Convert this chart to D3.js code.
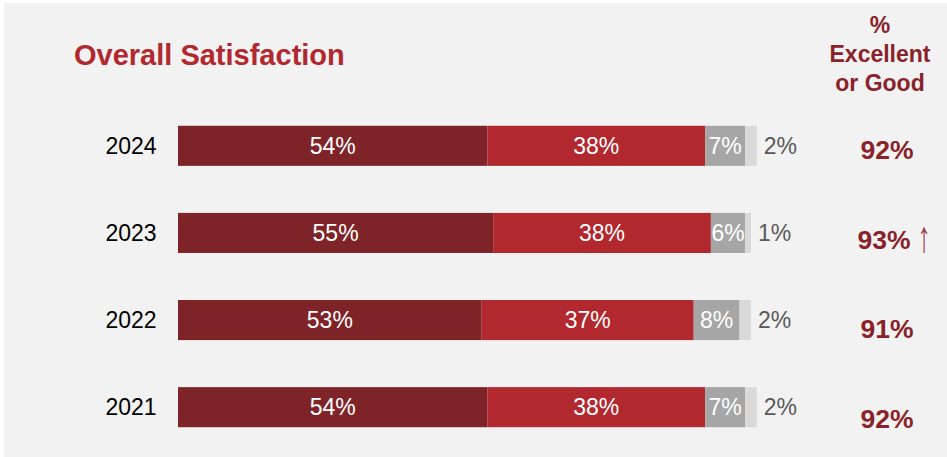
<!DOCTYPE html>
<html>
<head>
<meta charset="utf-8">
<script src="https://cdn.jsdelivr.net/npm/d3@7"></script>
<style>
  html, body { margin: 0; padding: 0; background: #ffffff; }
  svg { display: block; font-family: Arial, "Liberation Sans", sans-serif; }
</style>
</head>
<body>
<svg id="chart" width="947" height="457"></svg>
<script>
// ---- data ----
const years = ["2024", "2023", "2022", "2021"];
const excellent = [54, 55, 53, 54];
const good = [38, 38, 37, 38];
const fair = [7, 6, 8, 7];
const poor = [2, 1, 2, 2];
const topTwo = ["92%", "93%", "91%", "92%"];
const topTwoMark = ["", "\u2191", "", ""];
const seriesNames = ["Excellent", "Good", "Fair", "Poor"];
const seriesColors = ["#7e2428", "#b1282e", "#a6a6a6", "#d9d9d9"];

// ---- layout ----
const W = 947, H = 457;
const svg = d3.select("#chart");

svg.append("rect").attr("x", 4).attr("y", 3).attr("width", W - 4).attr("height", H - 3).attr("fill", "#f2f2f2");

const x = d3.scaleLinear().domain([0, 100]).range([178, 751]);
const y = d3.scaleBand().domain(years).range([104, 449]).paddingInner(0.54).paddingOuter(0.25);

const rows = years.map((yr, i) => {
  const vals = [excellent[i], good[i], fair[i], poor[i]];
  let acc = 0;
  return vals.map((v, k) => { const s = { year: yr, k, v, x0: acc, x1: acc + v }; acc += v; return s; });
});

const g = svg.append("g");

rows.forEach((segs, i) => {
  const yr = years[i];
  const cy = y(yr) + y.bandwidth() / 2;
  const row = g.append("g");
  row.selectAll("rect").data(segs).join("rect")
    .attr("x", d => x(d.x0))
    .attr("y", y(yr))
    .attr("width", d => x(d.x1) - x(d.x0))
    .attr("height", y.bandwidth())
    .attr("fill", d => seriesColors[d.k]);

  // inside labels (first three)
  row.selectAll("text.in").data(segs.slice(0, 3)).join("text")
    .attr("class", "in")
    .attr("x", d => (x(d.x0) + x(d.x1)) / 2)
    .attr("y", cy)
    .attr("dy", "0.36em")
    .attr("text-anchor", "middle")
    .attr("fill", "#ffffff")
    .attr("font-size", 23)
    .text(d => d.v + "%");

  // outside label (last)
  const last = segs[3];
  row.append("text")
    .attr("x", x(last.x1) + 7)
    .attr("y", cy)
    .attr("dy", "0.36em")
    .attr("fill", "#595959")
    .attr("font-size", 23)
    .text(last.v + "%");

  // year label
  row.append("text")
    .attr("x", 131)
    .attr("y", cy)
    .attr("dy", "0.36em")
    .attr("text-anchor", "middle")
    .attr("fill", "#000000")
    .attr("font-size", 23)
    .text(yr);

  // top-two box
  row.append("text")
    .attr("x", topTwoMark[i] ? 884 : 887)
    .attr("y", cy + 4 + i * 2.3)
    .attr("dy", "0.36em")
    .attr("text-anchor", "middle")
    .attr("fill", "#8a2329")
    .attr("font-size", 26.5)
    .attr("font-weight", "bold")
    .text(topTwo[i]);
  if (topTwoMark[i]) {
    row.append("text")
      .attr("x", 924)
      .attr("y", cy + 19)
      .attr("text-anchor", "middle")
      .attr("fill", "#9c3a42")
      .attr("font-size", 44)
      .attr("transform", `translate(924,0) scale(0.6,1) translate(-924,0)`)
      .text(topTwoMark[i]);
  }
});

// title
svg.append("text")
  .attr("x", 74).attr("y", 65)
  .attr("fill", "#b1282e")
  .attr("font-size", 29)
  .attr("font-weight", "bold")
  .text("Overall Satisfaction");

// right header
const header = ["%", "Excellent", "or Good"];
svg.append("g").selectAll("text").data(header).join("text")
  .attr("x", 880)
  .attr("y", (d, i) => 33 + i * 29)
  .attr("text-anchor", "middle")
  .attr("fill", "#8a2329")
  .attr("font-size", 23)
  .attr("font-weight", "bold")
  .text(d => d);
</script>
</body>
</html>
